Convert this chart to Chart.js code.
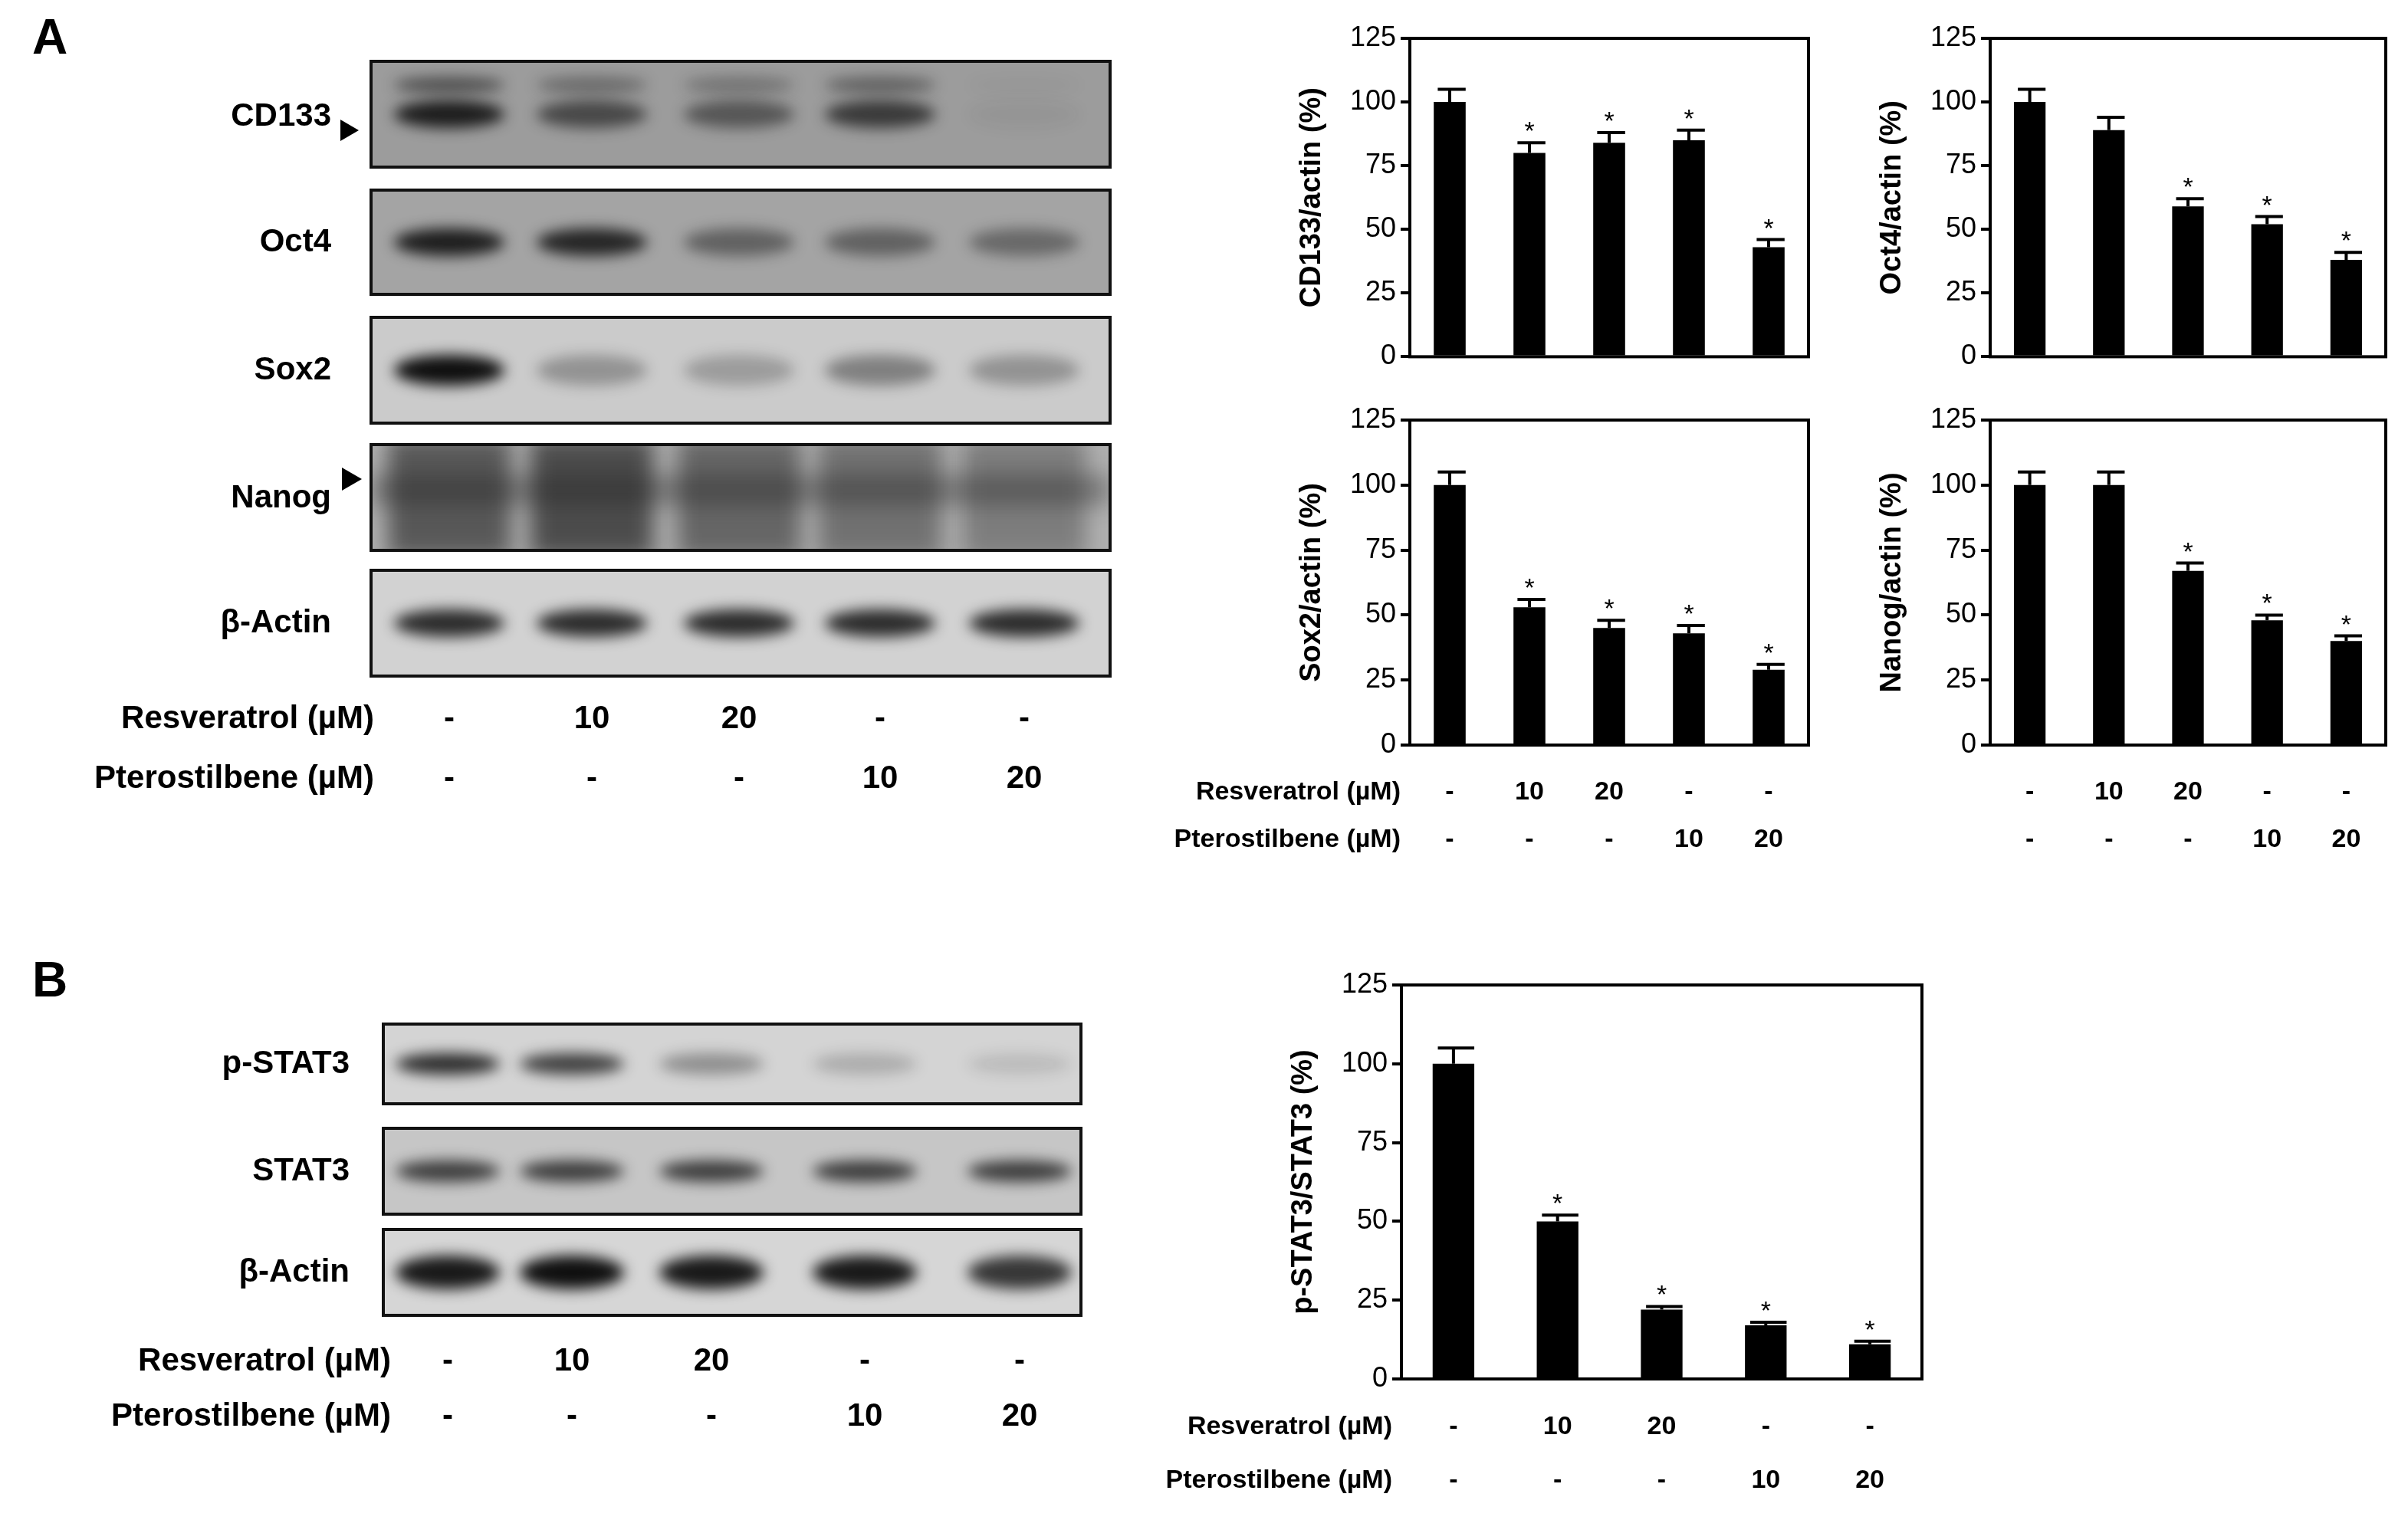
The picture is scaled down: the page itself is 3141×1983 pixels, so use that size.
<!DOCTYPE html>
<html>
<head>
<meta charset="utf-8">
<script src="https://cdn.jsdelivr.net/npm/chart.js@4.4.1/dist/chart.umd.min.js"></script>
<style>
  body { margin: 0; background: #fff; width: 3141px; height: 1983px; position: relative; overflow: hidden; }
  canvas { position: absolute; }
</style>
</head>
<body>
<canvas id="blots" width="3141" height="1983" style="left:0;top:0"></canvas>
<canvas id="c1"></canvas>
<canvas id="c2"></canvas>
<canvas id="c3"></canvas>
<canvas id="c4"></canvas>
<canvas id="c5"></canvas>
<script>
// Dados
const lanes = ['1', '2', '3', '4', '5'];
const resveratrol = ['-', '10', '20', '-', '-'];
const pterostilbene = ['-', '-', '-', '10', '20'];
const yTicks = [0, 25, 50, 75, 100, 125];

const cd133 = [100, 80, 84, 85, 43];
const cd133Err = [5, 4, 4, 4, 3];
const cd133Sig = [false, true, true, true, true];

const oct4 = [100, 89, 59, 52, 38];
const oct4Err = [5, 5, 3, 3, 3];
const oct4Sig = [false, false, true, true, true];

const sox2 = [100, 53, 45, 43, 29];
const sox2Err = [5, 3, 3, 3, 2];
const sox2Sig = [false, true, true, true, true];

const nanog = [100, 100, 67, 48, 40];
const nanogErr = [5, 5, 3, 2, 2];
const nanogSig = [false, false, true, true, true];

const pstat3 = [100, 50, 22, 17, 11];
const pstat3Err = [5, 2, 1, 1, 1];
const pstat3Sig = [false, true, true, true, true];

// intensidade das bandas (0-1) por linha do blot
const bandsA = {
    'CD133': [0.9, 0.6, 0.5, 0.7, 0.05],
    'Oct4': [0.9, 0.85, 0.45, 0.45, 0.4],
    'Sox2': [1.0, 0.3, 0.25, 0.4, 0.3],
    'Nanog': [0.7, 0.8, 0.6, 0.5, 0.4],
    'β-Actin': [0.85, 0.85, 0.85, 0.85, 0.85],
};
const bandsB = {
    'p-STAT3': [0.85, 0.75, 0.35, 0.2, 0.12],
    'STAT3': [0.75, 0.75, 0.75, 0.75, 0.75],
    'β-Actin': [0.95, 1.0, 0.95, 0.95, 0.8],
};

const FONT = '"Liberation Sans", Arial, sans-serif';

// ---------- blots (desenho simples) ----------
const bctx = document.getElementById('blots').getContext('2d');
bctx.textBaseline = 'middle';

function drawBlot(name, x0, x1, y0, y1, lanesX, vals, bg, bandW, bandH) {
    bctx.fillStyle = bg;
    bctx.fillRect(x0, y0, x1 - x0, y1 - y0);
    bctx.save();
    bctx.beginPath();
    bctx.rect(x0, y0, x1 - x0, y1 - y0);
    bctx.clip();
    const cy = (y0 + y1) / 2;
    if (name === 'Nanog') {
        bctx.filter = 'blur(14px)';
        for (let i = 0; i < 5; i++) {
            bctx.fillStyle = `rgba(20,20,20,${vals[i] * 0.8})`;
            bctx.fillRect(lanesX[i] - 80, y0 - 10, 160, y1 - y0 + 20);
        }
        bctx.fillStyle = 'rgba(30,30,30,0.35)';
        bctx.fillRect(x0, cy - 30, x1 - x0, 40);
    } else {
        bctx.filter = 'blur(9px)';
        vals.forEach((v, i) => {
            bctx.fillStyle = `rgba(15,15,15,${v})`;
            bctx.beginPath();
            bctx.ellipse(lanesX[i], cy, bandW, bandH, 0, 0, Math.PI * 2);
            bctx.fill();
            if (name === 'CD133') {
                bctx.fillStyle = `rgba(15,15,15,${v * 0.6})`;
                bctx.beginPath();
                bctx.ellipse(lanesX[i], cy - 38, bandW, bandH * 0.6, 0, 0, Math.PI * 2);
                bctx.fill();
            }
        });
    }
    bctx.restore();
    bctx.lineWidth = 4;
    bctx.strokeStyle = '#111';
    bctx.strokeRect(x0, y0, x1 - x0, y1 - y0);
    bctx.fillStyle = '#000';
    bctx.font = `bold 42px ${FONT}`;
    bctx.textAlign = 'right';
}

function treatmentRows(labelRight, lanesX, y1, y2, size) {
    bctx.fillStyle = '#000';
    bctx.font = `bold ${size}px ${FONT}`;
    bctx.textAlign = 'right';
    bctx.fillText('Resveratrol (µM)', labelRight, y1);
    bctx.fillText('Pterostilbene (µM)', labelRight, y2);
    bctx.textAlign = 'center';
    lanesX.forEach((x, i) => {
        bctx.fillText(resveratrol[i], x, y1);
        bctx.fillText(pterostilbene[i], x, y2);
    });
}

// painel A
const lanesAX = [586, 772, 964, 1148, 1336];
const rowsA = [[80, 218, '#9c9c9c'], [248, 384, '#a4a4a4'], [414, 552, '#cbcbcb'], [580, 718, '#b0b0b0'], [744, 882, '#d2d2d2']];
Object.keys(bandsA).forEach((name, r) => {
    const [y0, y1, bg] = rowsA[r];
    drawBlot(name, 484, 1448, y0, y1, lanesAX, bandsA[name], bg, 72, name === 'Sox2' ? 20 : 18);
    bctx.fillStyle = '#000';
    bctx.font = `bold 42px ${FONT}`;
    bctx.textAlign = 'right';
    const ly = name === 'CD133' ? 152 : (name === 'Nanog' ? 650 : (y0 + y1) / 2);
    bctx.fillText(name, 432, ly);
});
// setas
bctx.beginPath(); bctx.moveTo(444, 156); bctx.lineTo(468, 170); bctx.lineTo(444, 184); bctx.fill();
bctx.beginPath(); bctx.moveTo(446, 610); bctx.lineTo(472, 625); bctx.lineTo(446, 640); bctx.fill();
treatmentRows(488, lanesAX, 938, 1016, 42);

// painel B
const lanesBX = [584, 746, 928, 1128, 1330];
const rowsB = [[1336, 1440, '#d4d4d4'], [1472, 1584, '#c6c6c6'], [1604, 1716, '#d6d6d6']];
Object.keys(bandsB).forEach((name, r) => {
    const [y0, y1, bg] = rowsB[r];
    drawBlot(name, 500, 1410, y0, y1, lanesBX, bandsB[name], bg, 68, name === 'β-Actin' ? 22 : 14);
    bctx.fillStyle = '#000';
    bctx.font = `bold 42px ${FONT}`;
    bctx.textAlign = 'right';
    bctx.fillText(name, 456, (y0 + y1) / 2);
});
treatmentRows(510, lanesBX, 1776, 1848, 42);

bctx.font = `bold 64px ${FONT}`;
bctx.textAlign = 'left';
bctx.fillText('A', 42, 52);
bctx.fillText('B', 42, 1282);

// ---------- gráficos de barras ----------
const errorPlugin = {
    id: 'errorBars',
    afterDatasetsDraw(chart, args, opts) {
        const ctx = chart.ctx;
        const y = chart.scales.y;
        const meta = chart.getDatasetMeta(0);
        ctx.save();
        ctx.strokeStyle = '#000';
        ctx.lineWidth = 4;
        ctx.fillStyle = '#000';
        ctx.font = `34px ${FONT}`;
        ctx.textAlign = 'center';
        ctx.textBaseline = 'alphabetic';
        meta.data.forEach((bar, i) => {
            const v = opts.values[i];
            const top = y.getPixelForValue(v + opts.errors[i]);
            const half = bar.width / 2;
            ctx.beginPath();
            ctx.moveTo(bar.x, bar.y);
            ctx.lineTo(bar.x, top);
            ctx.moveTo(bar.x - half * 0.75, top);
            ctx.lineTo(bar.x + half, top);
            ctx.stroke();
            if (opts.sig[i]) ctx.fillText('*', bar.x, top - 4);
        });
        // caixa
        const a = chart.chartArea;
        ctx.lineWidth = 4;
        ctx.strokeRect(a.left, a.top, a.right - a.left, a.bottom - a.top);
        // linhas de tratamento
        if (opts.rows) {
            ctx.font = `bold 34px ${FONT}`;
            ctx.textBaseline = 'middle';
            const r1 = a.bottom + opts.rows[0], r2 = a.bottom + opts.rows[1];
            if (opts.rowLabels) {
                ctx.textAlign = 'right';
                ctx.fillText('Resveratrol (µM)', a.left - 12, r1);
                ctx.fillText('Pterostilbene (µM)', a.left - 12, r2);
            }
            ctx.textAlign = 'center';
            meta.data.forEach((bar, i) => {
                ctx.fillText(resveratrol[i], bar.x, r1);
                ctx.fillText(pterostilbene[i], bar.x, r2);
            });
        }
        ctx.restore();
    }
};

function makeBar(id, box, values, errors, sig, title, rows, rowLabels) {
    const YW = 150, extraL = rowLabels ? 240 : 0, padT = 30, padR = 20;
    const padB = rows ? rows[1] + 40 : 20;
    const w = box.r - box.l + YW + extraL + padR;
    const h = box.b - box.t + padT + padB;
    const cv = document.getElementById(id);
    cv.width = w; cv.height = h;
    cv.style.left = (box.l - YW - extraL) + 'px';
    cv.style.top = (box.t - padT) + 'px';
    new Chart(cv.getContext('2d'), {
        type: 'bar',
        data: {
            labels: lanes,
            datasets: [{
                data: values,
                backgroundColor: '#000',
                borderWidth: 0,
                barPercentage: 0.4,
                categoryPercentage: 1.0,
            }]
        },
        options: {
            responsive: false,
            animation: false,
            devicePixelRatio: 1,
            layout: { padding: { left: extraL, top: padT, right: padR, bottom: padB } },
            plugins: {
                legend: { display: false },
                tooltip: { enabled: false },
                errorBars: { values: values, errors: errors, sig: sig, rows: rows, rowLabels: rowLabels },
            },
            scales: {
                x: { display: false },
                y: {
                    min: 0, max: 125,
                    afterFit(scale) { scale.width = YW; },
                    afterBuildTicks(scale) { scale.ticks = yTicks.map(v => ({ value: v })); },
                    border: { display: true, color: '#000', width: 4 },
                    grid: { drawOnChartArea: false, drawTicks: true, tickLength: 12, color: '#000', lineWidth: 4 },
                    ticks: { color: '#000', font: { size: 36, family: FONT }, padding: 6 },
                    title: { display: true, text: title, color: '#000', font: { size: 38, weight: 'bold', family: FONT }, padding: 0 },
                }
            }
        },
        plugins: [errorPlugin]
    });
}

makeBar('c1', { l: 1839, t: 50, r: 2359, b: 473 }, cd133, cd133Err, cd133Sig, 'CD133/actin (%)', null, false);
makeBar('c2', { l: 2596, t: 50, r: 3112, b: 473 }, oct4, oct4Err, oct4Sig, 'Oct4/actin (%)', null, false);
makeBar('c3', { l: 1839, t: 548, r: 2359, b: 972 }, sox2, sox2Err, sox2Sig, 'Sox2/actin (%)', [62, 124], true);
makeBar('c4', { l: 2596, t: 548, r: 3112, b: 972 }, nanog, nanogErr, nanogSig, 'Nanog/actin (%)', [62, 124], false);
makeBar('c5', { l: 1828, t: 1285, r: 2507, b: 1799 }, pstat3, pstat3Err, pstat3Sig, 'p-STAT3/STAT3 (%)', [63, 133], true);
</script>
</body>
</html>
